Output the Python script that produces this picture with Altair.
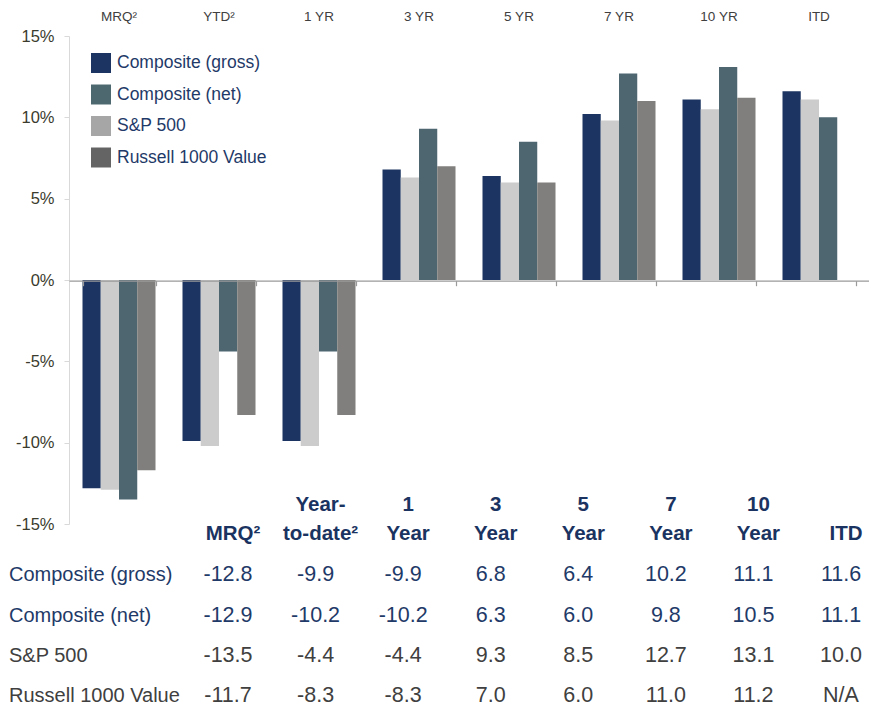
import altair as alt
import pandas as pd

# ---- data ----
categories = ["MRQ²", "YTD²", "1 YR", "3 YR", "5 YR", "7 YR", "10 YR", "ITD"]
table_headers = ["\nMRQ²", "Year-\nto-date²", "1\nYear", "3\nYear", "5\nYear",
                 "7\nYear", "10\nYear", "\nITD"]
series = ["Composite (gross)", "Composite (net)", "S&P 500", "Russell 1000 Value"]
gross = [-12.8, -9.9, -9.9, 6.8, 6.4, 10.2, 11.1, 11.6]
net = [-12.9, -10.2, -10.2, 6.3, 6.0, 9.8, 10.5, 11.1]
sp500 = [-13.5, -4.4, -4.4, 9.3, 8.5, 12.7, 13.1, 10.0]
russell = [-11.7, -8.3, -8.3, 7.0, 6.0, 11.0, 11.2, None]

# ---- styles ----
bar_colors = ["#1b3461", "#cccccc", "#4d6670", "#807f7d"]
legend_colors = ["#1b3461", "#4e6870", "#a6a6a6", "#646464"]
NAVY = "#1f3a68"
DARK = "#404040"
REG = "Liberation Sans, Arial, sans-serif"

rows = []
for s, vals in zip(series, [gross, net, sp500, russell]):
    for c, v in zip(categories, vals):
        rows.append({"category": c, "series": s, "value": v,
                     "label": "N/A" if v is None else f"{v:.1f}"})
df = pd.DataFrame(rows)

header_df = pd.DataFrame({"col": categories, "row": ["header"] * len(categories),
                          "text": table_headers})
labels_df = pd.DataFrame({"row": series})

# ---- chart part ----
bars = alt.Chart(df).mark_bar().encode(
    x=alt.X("category:N", sort=categories,
            scale=alt.Scale(paddingInner=0.27, paddingOuter=0.135),
            axis=alt.Axis(orient="bottom", offset=-243.3, labels=False, title=None,
                          tickBand="extent", domainColor="#9a9a9a", tickColor="#9a9a9a",
                          tickSize=5, domainWidth=1.2, tickWidth=1.2, zindex=1)),
    xOffset=alt.XOffset("series:N", sort=series, scale=alt.Scale(paddingInner=0)),
    y=alt.Y("value:Q", stack=None, scale=alt.Scale(domain=[-15, 15], nice=False),
            axis=alt.Axis(values=[-15, -10, -5, 0, 5, 10, 15],
                          labelExpr="datum.value + '%'", grid=False, title=None,
                          domainColor="#d9d9d9", tickColor="#d9d9d9", tickSize=5,
                          labelPadding=10, labelFontSize=16.5, labelColor="#3b3b2e",
                          labelFont=REG)),
    color=alt.Color("series:N", sort=series,
                    scale=alt.Scale(domain=series, range=bar_colors), legend=None),
)

legend_layer = alt.Chart(df).transform_calculate(zero="0").mark_bar().encode(
    x=alt.X("category:N", sort=categories,
            axis=alt.Axis(orient="top", ticks=False, domain=False, labelAngle=0,
                          title=None, labelFontSize=13.5, labelColor="#404040",
                          labelPadding=13, labelFont=REG)),
    y=alt.Y("zero:Q", stack=None, axis=None),
    color=alt.Color("series:N", sort=series,
                    scale=alt.Scale(domain=series, range=legend_colors),
                    legend=alt.Legend(orient="none", legendX=22, legendY=17, title=None,
                                      symbolType="square", symbolSize=400,
                                      symbolStrokeWidth=0, labelFont=REG,
                                      labelFontSize=17.5, labelColor=NAVY, labelOffset=6,
                                      rowPadding=11.5, padding=0, labelLimit=400,
                                      direction="vertical")),
)

chart_group = alt.layer(bars, legend_layer).resolve_axis(
    x="independent", y="independent").resolve_scale(color="independent")

# ---- table part ----
tx = alt.X("col:N", sort=categories,
           scale=alt.Scale(type="point", range=[159, 772], padding=0), axis=None)
ty = alt.Y("row:N", scale=alt.Scale(type="point", domain=["header"] + series,
                                     range=[499, 660], padding=0), axis=None)
row_color = alt.condition(
    "datum.row == 'Composite (gross)' || datum.row == 'Composite (net)'",
    alt.value(NAVY), alt.value(DARK))

header = alt.Chart(header_df).mark_text(
    font=REG, fontWeight="bold", fontSize=20.5, color="#1a3361", lineBreak="\n",
    lineHeight=29, baseline="alphabetic", align="center", dy=-24, dx=5
).encode(x=tx, y=ty, text="text:N")

values = alt.Chart(df.rename(columns={"category": "col", "series": "row"})).mark_text(
    font=REG, fontSize=21.5, baseline="middle", align="center"
).encode(x=tx, y=ty, text="label:N", color=row_color)

row_labels = alt.Chart(labels_df).mark_text(
    font=REG, fontSize=20, baseline="middle", align="left"
).encode(x=alt.value(-60), y=ty, text="row:N", color=row_color)

table_group = alt.layer(header, values, row_labels)

chart = alt.layer(chart_group, table_group).resolve_scale(
    x="independent", y="independent"
).properties(
    width=800, height=488,
    padding={"left": 61, "top": 28, "right": 0, "bottom": 185},
    autosize=alt.AutoSizeParams(type="none"),
).configure_view(stroke=None)

chart.save("out.html", embed_options={"renderer": "svg", "actions": False})
